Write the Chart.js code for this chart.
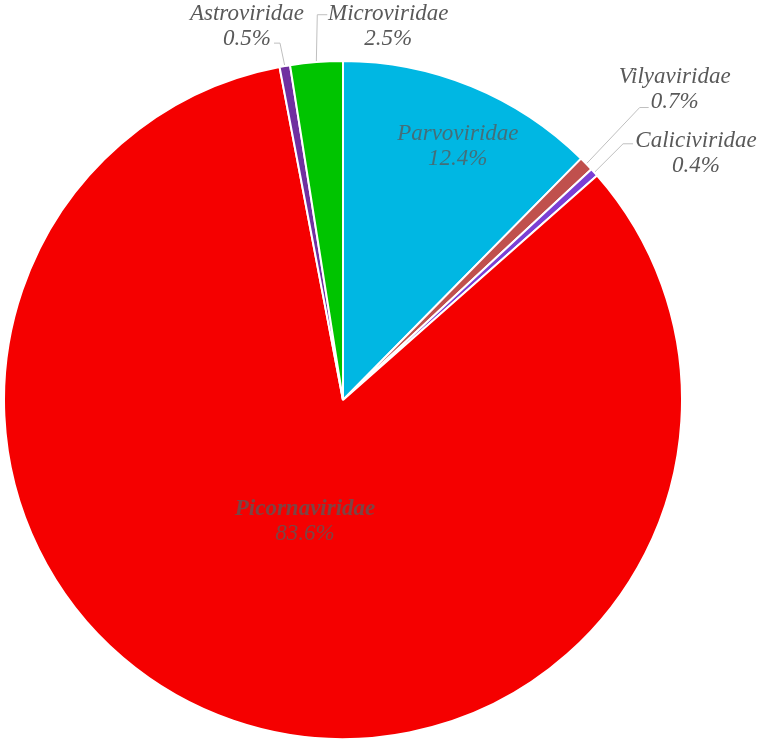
<!DOCTYPE html>
<html>
<head>
<meta charset="utf-8">
<script src="https://cdn.jsdelivr.net/npm/chart.js@4"></script>
<style>
  html, body { margin: 0; padding: 0; background: #fff; }
  #wrap { width: 761px; height: 742px; }
</style>
</head>
<body>
<div id="wrap"><canvas id="pie" width="761" height="742"></canvas></div>
<script>
// Virus family share of reads (%)
const families = ['Parvoviridae', 'Vilyaviridae', 'Caliciviridae', 'Picornaviridae', 'Astroviridae', 'Microviridae'];
const shares = [12.4, 0.7, 0.4, 83.6, 0.5, 2.5];
const sliceColors = ['#00B7E3', '#C0504D', '#7B3FD4', '#F50000', '#7030A0', '#00C400'];

// label placement (polar from pie centre: angle in deg from top, radius in px),
// leader line elbow + end relative to label centre
const labelStyle = {
    Parvoviridae:   { a: 24.3, r: 279, inside: true },
    Vilyaviridae:   { a: 46.8, r: 455, leader: [[-35, 19], [-26, 19]] },
    Caliciviridae:  { a: 55.0, r: 431, leader: [[-73, -9], [-63, -9]] },
    Picornaviridae: { a: 197.4, r: 127, inside: true, bold: true },
    Astroviridae:   { a: 345.6, r: 386, leader: [[33, 17], [27, 17]] },
    Microviridae:   { a: 6.9, r: 377, leader: [[-71, -11], [-61, -11]] }
};

const FONT = '23px "Liberation Serif", "Times New Roman", serif';

const labelPlugin = {
    id: 'sliceLabels',
    afterDatasetsDraw(chart) {
        const ctx = chart.ctx;
        const meta = chart.getDatasetMeta(0);
        ctx.save();
        ctx.textAlign = 'center';
        ctx.textBaseline = 'middle';
        meta.data.forEach((arc, i) => {
            const name = families[i];
            const st = labelStyle[name];
            const cx = arc.x, cy = arc.y;
            const rad = st.a * Math.PI / 180;
            const lx = cx + st.r * Math.sin(rad);
            const ly = cy - st.r * Math.cos(rad);
            if (st.leader) {
                const mid = (arc.startAngle + arc.endAngle) / 2;
                const ex = cx + (arc.outerRadius + 1) * Math.cos(mid);
                const ey = cy + (arc.outerRadius + 1) * Math.sin(mid);
                ctx.strokeStyle = '#BFBFBF';
                ctx.lineWidth = 1;
                ctx.beginPath();
                ctx.moveTo(ex, ey);
                ctx.lineTo(lx + st.leader[0][0], ly + st.leader[0][1]);
                ctx.lineTo(lx + st.leader[1][0], ly + st.leader[1][1]);
                ctx.stroke();
            }
            ctx.fillStyle = st.inside ? 'rgba(89,89,89,0.77)' : '#595959';
            ctx.font = (st.bold ? 'italic bold ' : 'italic ') + FONT;
            ctx.fillText(name, lx, ly - 12);
            ctx.font = 'italic ' + FONT;
            ctx.fillText(shares[i].toFixed(1) + '%', lx, ly + 13);
        });
        ctx.restore();
    }
};

new Chart(document.getElementById('pie'), {
    type: 'pie',
    data: {
        labels: families,
        datasets: [{
            data: shares,
            backgroundColor: sliceColors,
            borderColor: '#FFFFFF',
            borderWidth: 2,
            hoverOffset: 0
        }]
    },
    options: {
        responsive: false,
        animation: false,
        layout: { padding: { left: 3, right: 78, top: 60, bottom: 2 } },
        plugins: {
            legend: { display: false },
            tooltip: { enabled: false }
        }
    },
    plugins: [labelPlugin]
});
</script>
</body>
</html>
